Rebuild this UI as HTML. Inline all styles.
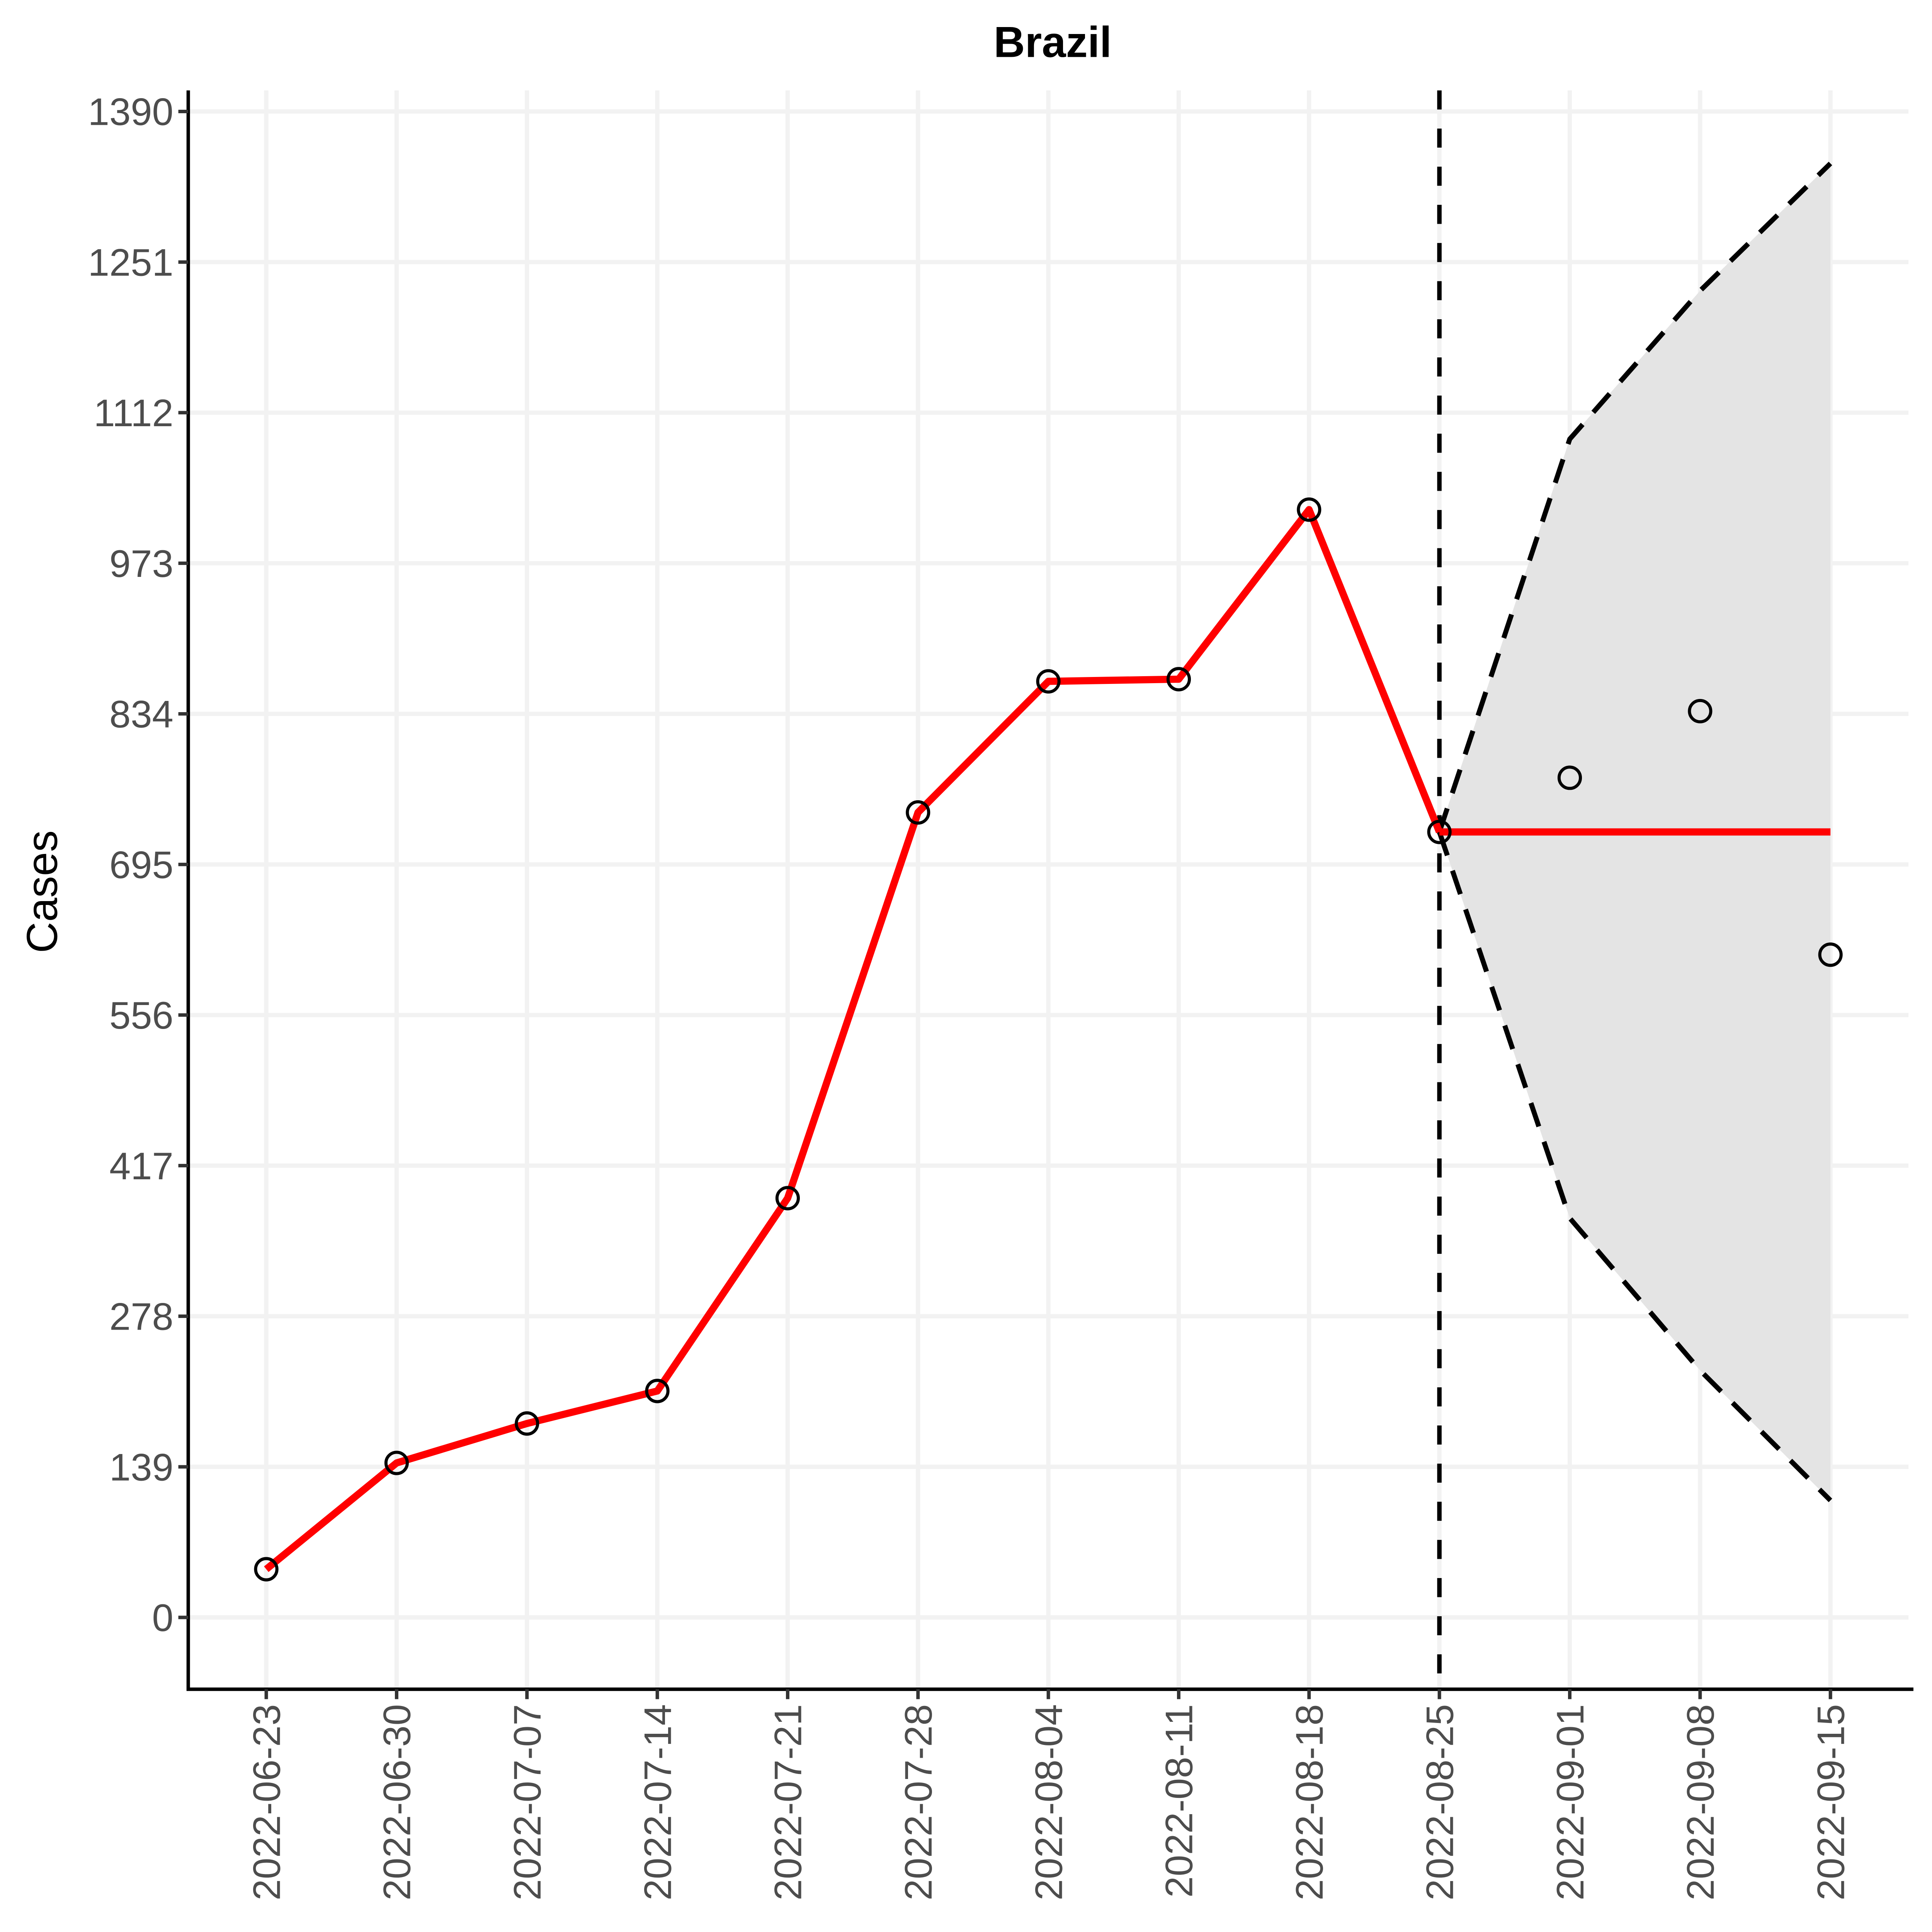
<!DOCTYPE html>
<html><head><meta charset="utf-8"><style>html,body{margin:0;padding:0;background:#fff;width:100vw;height:100vh;overflow:hidden}svg{display:block;width:100vw;height:100vh}</style></head>
<body>
<svg id="chart" xmlns="http://www.w3.org/2000/svg" viewBox="0 0 1560 1560" preserveAspectRatio="none" font-family="'Liberation Sans', Arial, sans-serif"><g id="root"></g></svg>
<script>
const dates = ["2022-06-23","2022-06-30","2022-07-07","2022-07-14","2022-07-21","2022-07-28","2022-08-04","2022-08-11","2022-08-18","2022-08-25","2022-09-01","2022-09-08","2022-09-15"];
const yTicks = [0,139,278,417,556,695,834,973,1112,1251,1390];
const fitted = [44.5,142.6,179,209,387,743,864,866,1022.5,725];
const observed = [44.5,142.6,179,209,387,743,864,866,1022.5,725,775,836.5,611.7];
const forecast = [725,725,725,725];
const upper = [725,1087.6,1224.5,1342];
const lower = [725,368.6,228,108];
const fcStart = 9;

const NS="http://www.w3.org/2000/svg";
const svg=document.getElementById('root');
const L=152,R=1541,T=73,B=1364;
const x=i=>215+i*(1478-215)/12;
const y=v=>1306-v*(1306-90)/1390;
function el(tag,attrs,parent){const e=document.createElementNS(NS,tag);for(const k in attrs)e.setAttribute(k,attrs[k]);(parent||svg).appendChild(e);return e;}

const grid=el('g',{});


yTicks.forEach(v=>{const l=el('line',{x1:L,x2:R,y1:y(v),y2:y(v),stroke:'#F2F2F2','stroke-width':3.5},grid);

});
dates.forEach((d,i)=>{const l=el('line',{x1:x(i),x2:x(i),y1:T,y2:B,stroke:'#F2F2F2','stroke-width':3.5},grid);

});

let pts=[];
upper.forEach((v,j)=>pts.push(x(fcStart+j)+','+y(v)));
for(let j=lower.length-1;j>=0;j--)pts.push(x(fcStart+j)+','+y(lower[j]));
const rib=el('polygon',{points:pts.join(' '),fill:'#E4E4E4'});



const up=el('polyline',{points:upper.map((v,j)=>x(fcStart+j)+','+y(v)).join(' '),fill:'none',stroke:'#000','stroke-width':4,'stroke-dasharray':'20 13'});


const lo=el('polyline',{points:lower.map((v,j)=>x(fcStart+j)+','+y(v)).join(' '),fill:'none',stroke:'#000','stroke-width':4,'stroke-dasharray':'20 13'});



const vl=el('line',{x1:x(fcStart),x2:x(fcStart),y1:T,y2:B,stroke:'#000','stroke-width':3.6,'stroke-dasharray':'15.4 15.4'});



const fl=el('polyline',{points:fitted.map((v,i)=>x(i)+','+y(v)).join(' '),fill:'none',stroke:'#FF0000','stroke-width':5.8,'stroke-linejoin':'round'});


const fc=el('polyline',{points:forecast.map((v,j)=>x(fcStart+j)+','+y(v)).join(' '),fill:'none',stroke:'#FF0000','stroke-width':5.8});



observed.forEach((v,i)=>{const c=el('circle',{cx:x(i),cy:y(v),r:8.6,fill:'none',stroke:'#000','stroke-width':2.5});

});

const ax=el('path',{d:`M${L},${T} V${B} H${R+4}`,fill:'none',stroke:'#000','stroke-width':2.8});


yTicks.forEach(v=>{el('line',{x1:L-8,x2:L,y1:y(v),y2:y(v),stroke:'#333','stroke-width':2.8});
const t=el('text',{x:L-12,y:y(v)+11,'text-anchor':'end','font-size':31,fill:'#4D4D4D'});t.textContent=v;

});
dates.forEach((d,i)=>{el('line',{x1:x(i),x2:x(i),y1:B,y2:B+8,stroke:'#333','stroke-width':2.8});
const t=el('text',{x:0,y:0,'text-anchor':'end','font-size':31,fill:'#4D4D4D',transform:`translate(${x(i)+11},${B+12}) rotate(-90)`});t.textContent=d;

});

const title=el('text',{x:850,y:46,'text-anchor':'middle','font-size':35,'font-weight':'bold',fill:'#000'});title.textContent='Brazil';


const yt=el('text',{x:0,y:0,'text-anchor':'middle','font-size':35,fill:'#000',transform:`translate(46,720) rotate(-90)`});yt.textContent='Cases';


</script>
</body></html>
